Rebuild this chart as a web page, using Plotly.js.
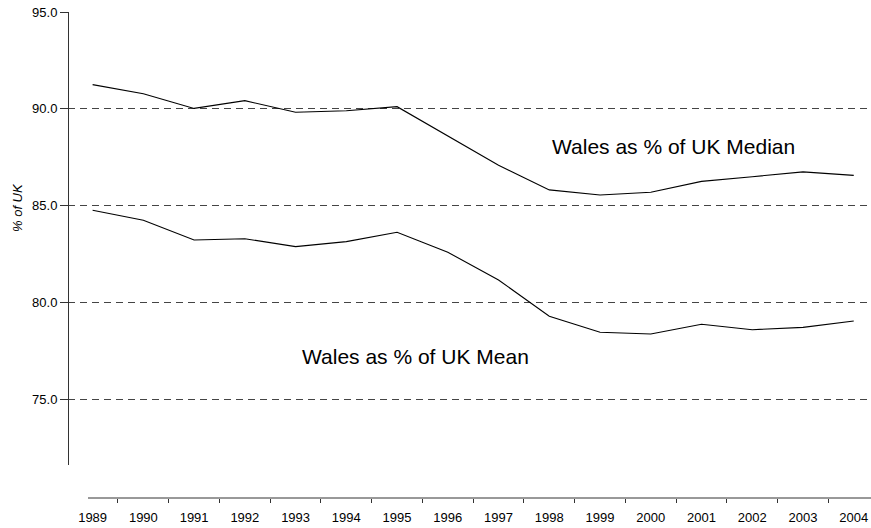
<!DOCTYPE html>
<html>
<head>
<meta charset="utf-8">
<script src="https://cdn.plot.ly/plotly-3.0.1.min.js"></script>
<style>html,body{margin:0;padding:0;background:#fff;}#chart{width:871px;height:528px;}</style>
</head>
<body>
<div id="chart"></div>
<script>
var years = ["1989","1990","1991","1992","1993","1994","1995","1996","1997","1998","1999","2000","2001","2002","2003","2004"];
var medianPct = [91.25,90.78,90.02,90.42,89.82,89.90,90.11,88.60,87.08,85.81,85.55,85.69,86.25,86.49,86.74,86.56];
var meanPct = [84.76,84.24,83.22,83.29,82.88,83.14,83.62,82.59,81.16,79.28,78.46,78.37,78.87,78.59,78.71,79.04];
var yTicks = [75,80,85,90,95];
var yTickText = ["75.0","80.0","85.0","90.0","95.0"];
var medianLabel = "Wales as % of UK Median";
var meanLabel = "Wales as % of UK Mean";
var yTitle = "% of UK";

var FONT = "Arial, 'Liberation Sans', sans-serif";
var lineStyle = {color:"#000", width:1.1};

var traces = [
  {x:years, y:medianPct, type:"scatter", mode:"lines", line:lineStyle, name:medianLabel, hoverinfo:"skip"},
  {x:years, y:meanPct, type:"scatter", mode:"lines", line:lineStyle, name:meanLabel, hoverinfo:"skip"}
];

var layout = {
  width:871, height:528,
  margin:{l:68, r:0, t:12, b:30},
  paper_bgcolor:"#fff", plot_bgcolor:"#fff",
  showlegend:false,
  font:{family:FONT, size:13, color:"#000"},
  xaxis:{
    type:"category",
    range:[-0.485, 15.34],
    anchor:"free", position:0,
    showline:false, showgrid:false, zeroline:false,
    tickson:"boundaries",
    ticks:"outside", ticklen:4, tickcolor:"#333", tickwidth:1,
    tickfont:{family:FONT, size:13, color:"#000"},
    ticklabelstandoff:10,
    fixedrange:true
  },
  yaxis:{
    domain:[0.0679, 1],
    range:[71.6, 95],
    anchor:"free", position:0,
    tickvals:yTicks, ticktext:yTickText,
    showline:true, linecolor:"#333", linewidth:1,
    ticks:"outside", ticklen:8, tickcolor:"#333", tickwidth:1,
    showgrid:true, gridcolor:"#444", gridwidth:1, griddash:"7px,5px",
    zeroline:false,
    tickfont:{family:FONT, size:13, color:"#000"},
    fixedrange:true
  },
  shapes:[
    {type:"line", xref:"paper", yref:"paper", x0:20/803, x1:1, y0:0, y1:0, line:{color:"#333", width:1}}
  ],
  annotations:[
    {x:11.45, y:88.04, xref:"x", yref:"y", text:medianLabel, showarrow:false, xanchor:"center", yanchor:"middle", font:{family:FONT, size:21, color:"#000"}},
    {x:6.37, y:77.23, xref:"x", yref:"y", text:meanLabel, showarrow:false, xanchor:"center", yanchor:"middle", font:{family:FONT, size:21, color:"#000"}},
    {x:-0.0635, y:0.5967, xref:"paper", yref:"paper", text:"<i>"+yTitle+"</i>", textangle:-90, showarrow:false, xanchor:"center", yanchor:"middle", font:{family:FONT, size:13, color:"#000"}}
  ]
};

Plotly.newPlot("chart", traces, layout, {staticPlot:true, displayModeBar:false});
</script>
</body>
</html>
